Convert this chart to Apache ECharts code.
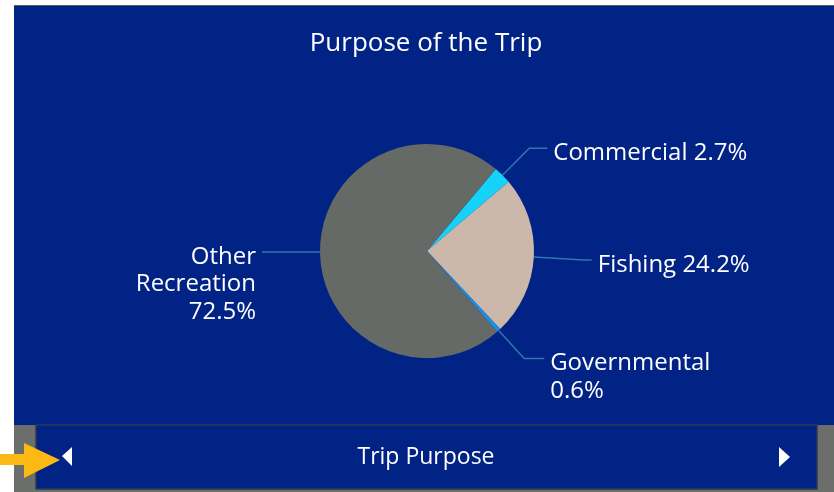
<!DOCTYPE html>
<html>
<head>
<meta charset="utf-8">
<script src="https://cdn.jsdelivr.net/npm/echarts@6/dist/echarts.min.js"></script>
<style>
html,body{margin:0;padding:0;background:#ffffff;}
#chart{width:834px;height:492px;}
</style>
</head>
<body>
<div id="chart"></div>
<script>
var titleText = 'Purpose of the Trip';
var footerText = 'Trip Purpose';
var categories = ['Commercial', 'Fishing', 'Governmental', 'Other Recreation'];
var values = [2.7, 24.2, 0.6, 72.5];
var colors = ['#14d2f8', '#cbb8aa', '#1d8fe3', '#666a66'];

var FONT = '"Open Sans"';
var lineColor = '#2e78ad';

// label line settings per slice (styles only)
var lineLen = [38, 50, 38, 20];
var lineLen2 = [18, 8, 20, 38];

function labelFor(name, val){
  if (name === 'Other Recreation') return '\n\nOther\nRecreation\n' + val + '%';
  if (name === 'Governmental') return '\n' + name + '\n' + val + '%';
  return name + ' ' + val + '%';
}

var data = categories.map(function(c, i){
  return {
    name: c,
    value: values[i],
    itemStyle: {color: colors[i]},
    labelLine: {length: lineLen[i], length2: lineLen2[i]}
  };
});

var chart = echarts.init(document.getElementById('chart'), null, {renderer: 'canvas'});
chart.setOption({
  backgroundColor: '#ffffff',
  animation: false,
  graphic: [
    {type: 'rect', z: -10, shape: {x: 14, y: 5, width: 820, height: 2}, style: {fill: '#5a5d63'}},
    {type: 'rect', z: -10, shape: {x: 14, y: 6, width: 820, height: 484}, style: {fill: '#012385'}},
    {type: 'rect', z: -9, shape: {x: 14, y: 425, width: 22, height: 67}, style: {fill: '#6b6e6a'}},
    {type: 'rect', z: -9, shape: {x: 817, y: 425, width: 17, height: 67}, style: {fill: '#6b6e6a'}},
    {type: 'rect', z: -9, shape: {x: 14, y: 489, width: 820, height: 3}, style: {fill: '#6b6e6a'}},
    {type: 'rect', z: -8, shape: {x: 36, y: 425, width: 781, height: 64}, style: {fill: '#012385', stroke: '#2b3a55', lineWidth: 1.5}},
    {type: 'text', z: 5, x: 426, y: 44, style: {text: titleText, fill: '#ffffff', font: '26px ' + FONT, textAlign: 'center', textVerticalAlign: 'middle'}},
    {type: 'polygon', z: 5, shape: {points: [[62,456],[72,447],[72,466]]}, style: {fill: '#ffffff'}},
    {type: 'polygon', z: 5, shape: {points: [[779,447],[790,457],[779,467]]}, style: {fill: '#ffffff'}},
    {type: 'text', z: 5, x: 426, y: 457, style: {text: footerText, fill: '#ffffff', font: '23px ' + FONT, textAlign: 'center', textVerticalAlign: 'middle'}},
    {type: 'polygon', z: 6, shape: {points: [[0,454],[24,454],[24,443],[60,460],[24,478],[24,465],[0,465]]}, style: {fill: '#fdb913'}}
  ],
  series: [{
    type: 'pie',
    center: [427, 251],
    radius: [0, 107],
    startAngle: 50,
    clockwise: true,
    avoidLabelOverlap: false,
    data: data,
    itemStyle: {borderWidth: 0},
    label: {
      show: true,
      color: '#ffffff',
      fontFamily: FONT,
      fontSize: 24,
      lineHeight: 27.5,
      offset: [0, 5],
      distanceToLabelLine: 6,
      formatter: function(p){ return labelFor(p.name, p.value); }
    },
    labelLine: {
      show: true,
      smooth: false,
      lineStyle: {color: lineColor, width: 1.5}
    },
    emphasis: {disabled: true}
  }]
});
</script>
</body>
</html>
